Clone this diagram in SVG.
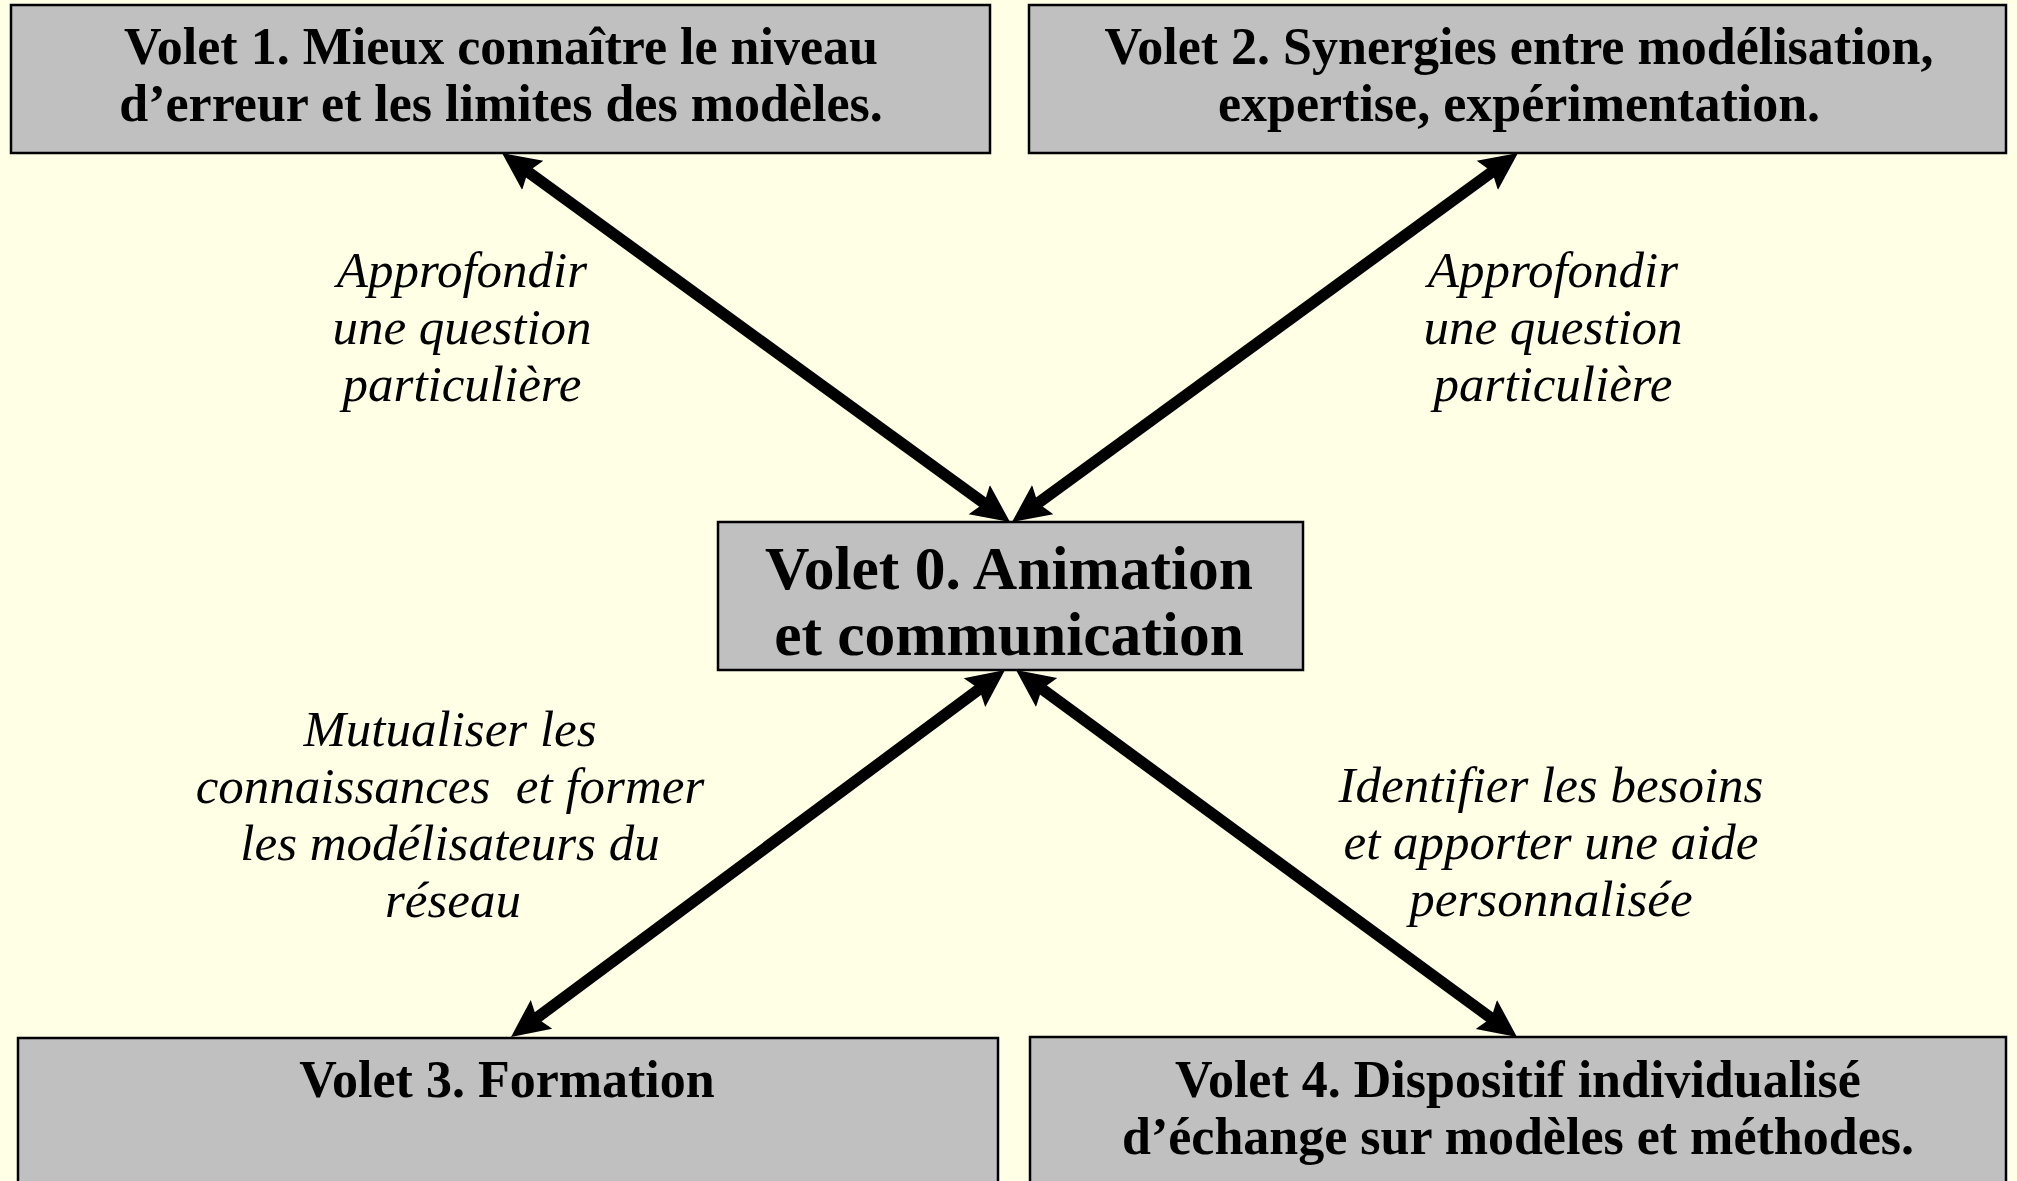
<svg xmlns="http://www.w3.org/2000/svg" width="2017" height="1181" viewBox="0 0 2017 1181">
<defs>
<style>
.box{fill:#C0C0C0;stroke:#000;stroke-width:2.5}
.t{font-family:"Liberation Serif","Times New Roman",serif;font-weight:bold;font-size:52px;fill:#000;text-anchor:middle}
.t0{font-size:61.5px}
.lab{font-family:"Liberation Serif","Times New Roman",serif;font-style:italic;font-size:51px;fill:#000;text-anchor:middle}
.con{stroke:#000;stroke-width:11.5;fill:none;marker-start:url(#ah);marker-end:url(#ah)}
</style>
<marker id="ah" markerUnits="userSpaceOnUse" markerWidth="40" markerHeight="40" viewBox="0 -20 40 40" refX="8" refY="0" orient="auto-start-reverse">
<path d="M38,0 L0,-18 L6,0 L0,18 Z" fill="#000"/>
</marker>
</defs>
<rect x="0" y="0" width="2017" height="1181" fill="#FFFFE5"/>
<g id="volet1">
<rect class="box" x="11" y="5" width="979" height="148"/>
<text class="t" x="501" y="64">Volet 1. Mieux connaître le niveau</text>
<text class="t" x="501" y="121">d’erreur et les limites des modèles.</text>
</g>
<g id="volet2">
<rect class="box" x="1029" y="5" width="977" height="148"/>
<text class="t" x="1519" y="64">Volet 2. Synergies entre modélisation,</text>
<text class="t" x="1519" y="121">expertise, expérimentation.</text>
</g>
<g id="volet0">
<rect class="box" x="718" y="522" width="585" height="148"/>
<text class="t t0" x="1009" y="589">Volet 0. Animation</text>
<text class="t t0" x="1009" y="655">et communication</text>
</g>
<g id="volet3">
<rect class="box" x="18" y="1038" width="980" height="170"/>
<text class="t" x="507" y="1097">Volet 3. Formation</text>
</g>
<g id="volet4">
<rect class="box" x="1030" y="1037" width="976" height="170"/>
<text class="t" x="1518" y="1097">Volet 4. Dispositif individualisé</text>
<text class="t" x="1518" y="1154">d’échange sur modèles et méthodes.</text>
</g>
<g id="connectors">
<path class="con" d="M526.27,170.63 L985.73,504.37"/>
<path class="con" d="M1493.76,170.68 L1036.24,504.32"/>
<path class="con" d="M980.92,687.89 L535.08,1019.11"/>
<path class="con" d="M1040.2,687.73 L1492.8,1019.27"/>
</g>
<g id="labels">
<text class="lab" x="462" y="287">Approfondir</text>
<text class="lab" x="462" y="344">une question</text>
<text class="lab" x="462" y="401">particulière</text>
<text class="lab" x="1553" y="287">Approfondir</text>
<text class="lab" x="1553" y="344">une question</text>
<text class="lab" x="1553" y="401">particulière</text>
<text class="lab" x="450" y="746">Mutualiser les</text>
<text class="lab" x="450" y="803" xml:space="preserve">connaissances  et former</text>
<text class="lab" x="450" y="860">les modélisateurs du</text>
<text class="lab" x="453" y="917">réseau</text>
<text class="lab" x="1551" y="802">Identifier les besoins</text>
<text class="lab" x="1551" y="859">et apporter une aide</text>
<text class="lab" x="1551" y="916">personnalisée</text>
</g>
</svg>
